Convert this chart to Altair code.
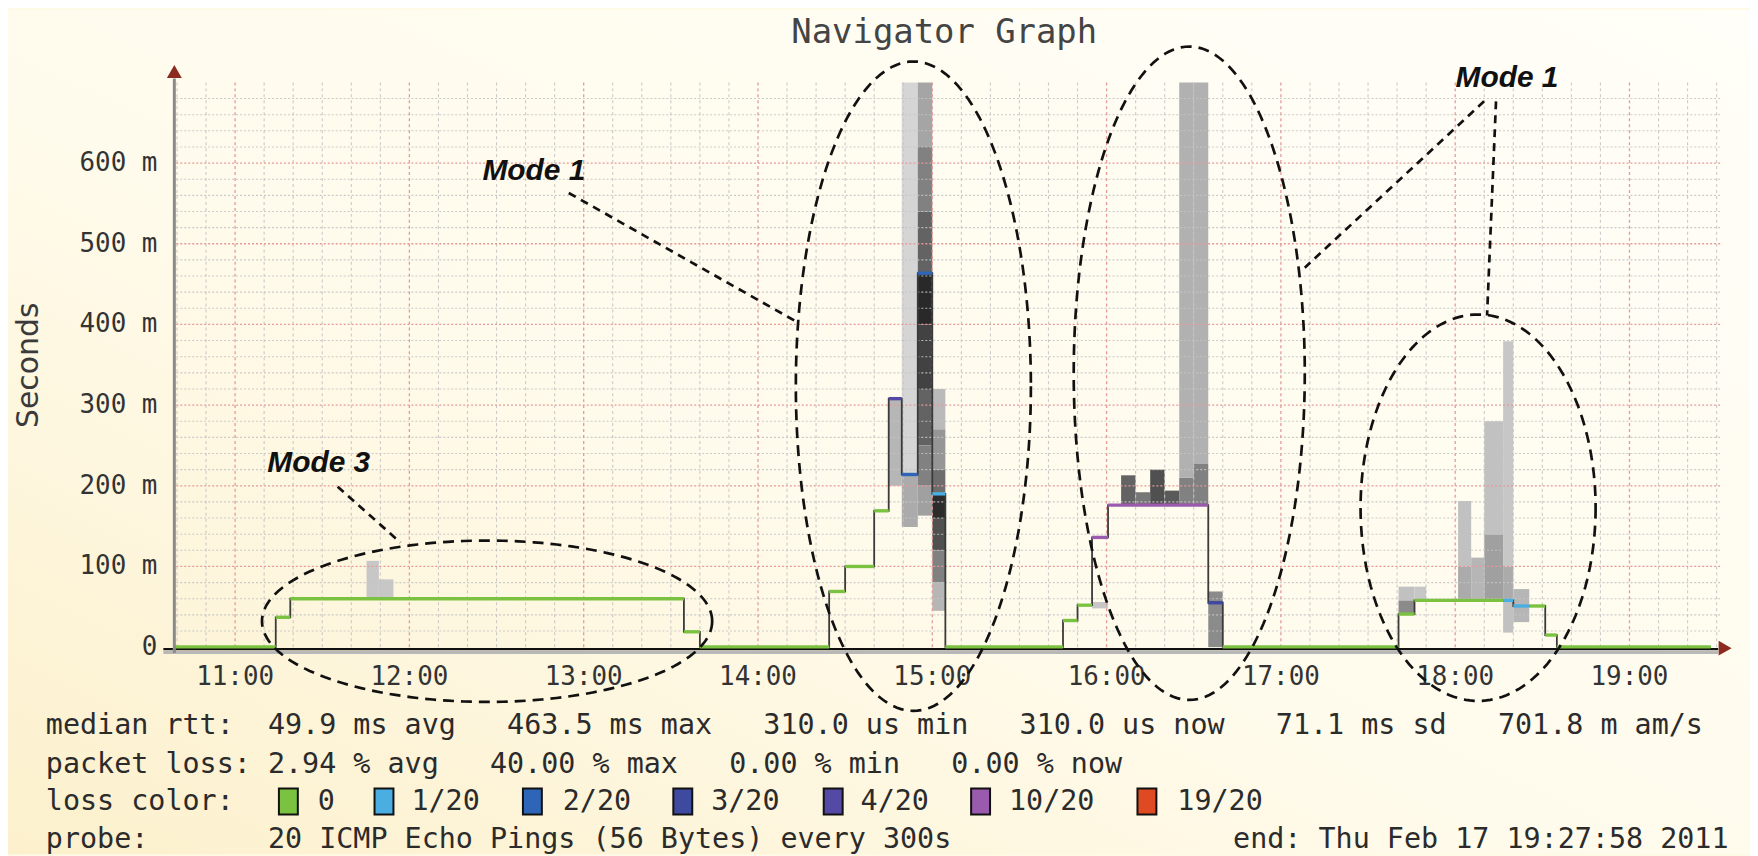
import altair as alt
import numpy as np
import pandas as pd

# ------------------------------------------------------------------ data
# median RTT: step start time, value (ms), loss class
step_start = ["10:38:45", "11:14:00", "11:19:00", "13:34:30", "13:40:00",
              "14:24:30", "14:30:00", "14:40:00", "14:45:00", "14:49:30",
              "14:55:00", "15:00:00", "15:04:30", "15:45:00", "15:50:00",
              "15:55:00", "16:00:30", "16:35:00", "16:40:00", "17:40:30",
              "17:46:00", "18:16:30", "18:20:00", "18:25:30", "18:31:00",
              "18:35:00"]
step_value = [0.3, 37, 60, 19, 0.3,
              69, 100, 169, 308, 214,
              463.5, 190, 0.3, 33, 52,
              136, 176, 55, 0.3, 41,
              58, 58, 51, 51, 15,
              0.3]
step_loss = ["0", "0", "0", "0", "0",
             "0", "0", "0", "4/20", "2/20",
             "2/20", "1/20", "0", "0", "0",
             "10/20", "10/20", "3/20", "0", "0",
             "0", "1/20", "1/20", "0", "0",
             "0"]
series_end = "19:28:00"

# smoke bands: start, end, low (ms), high (ms), density (0 light .. 1 dark)
smoke_t0 = ["11:45:15", "11:49:30",
            "14:45:00", "14:49:30", "14:49:30",
            "14:55:00", "14:55:00", "14:55:00", "14:55:00", "14:55:00", "14:55:00", "14:55:00", "14:55:00",
            "15:00:00", "15:00:00", "15:00:00", "15:00:00", "15:00:00", "15:00:00", "15:00:00",
            "15:55:00", "16:05:00", "16:10:00", "16:15:00", "16:20:00", "16:25:00", "16:25:00",
            "16:30:00", "16:30:00", "16:35:00",
            "17:40:30", "17:40:30", "17:46:00", "18:01:00", "18:01:00", "18:05:30", "18:10:00",
            "18:10:00", "18:16:30", "18:16:30", "18:16:30", "18:20:00"]
smoke_t1 = ["11:49:30", "11:54:30",
            "14:49:30", "14:55:00", "14:55:00",
            "15:00:00", "15:00:00", "15:00:00", "15:00:00", "15:00:00", "15:00:00", "15:00:00", "15:00:00",
            "15:04:30", "15:04:30", "15:04:30", "15:04:30", "15:04:30", "15:04:30", "15:04:30",
            "16:00:30", "16:10:00", "16:15:00", "16:20:00", "16:25:00", "16:30:00", "16:30:00",
            "16:35:00", "16:35:00", "16:40:00",
            "17:46:00", "17:46:00", "17:50:00", "18:05:30", "18:05:30", "18:10:00", "18:16:30",
            "18:16:30", "18:20:00", "18:20:00", "18:20:00", "18:25:30"]
smoke_lo = [60, 60,
            200, 214, 149,
            620, 540, 463.5, 400, 320, 250, 200, 163,
            270, 220, 190, 160, 120, 80, 45,
            48, 176, 176, 176, 176, 176, 210,
            176, 227, 0,
            41, 58, 58, 58, 100, 58, 58,
            140, 18, 58, 100, 31]
smoke_hi = [107, 84,
            308, 700, 214,
            700, 620, 540, 463.5, 400, 320, 250, 200,
            320, 270, 220, 190, 160, 120, 80,
            56, 213, 192, 220, 194, 210, 700,
            227, 700, 69,
            58, 75, 75, 100, 181, 111, 140,
            280, 58, 100, 379, 72]
smoke_density = [0.12, 0.12,
                 0.2, 0.06, 0.25,
                 0.28, 0.45, 0.6, 0.92, 0.78, 0.6, 0.45, 0.3,
                 0.18, 0.35, 0.55, 0.9, 0.7, 0.45, 0.2,
                 0.12, 0.6, 0.5, 0.7, 0.65, 0.45, 0.22,
                 0.45, 0.22, 0.4,
                 0.4, 0.15, 0.12, 0.25, 0.15, 0.2, 0.3,
                 0.15, 0.15, 0.25, 0.12, 0.2]

loss_levels = ["0", "1/20", "2/20", "3/20", "4/20", "10/20", "19/20"]
loss_colors = ["#7CC241", "#4BAEE3", "#2F65B6", "#3E4A9F", "#5549A6", "#9A5BAE", "#E04A22"]

x_tick_hours = [11, 12, 13, 14, 15, 16, 17, 18, 19]
y_tick_values = [0, 100, 200, 300, 400, 500, 600]

title_text = "Navigator Graph"
y_title = "Seconds"
stat_rows = [
    "median rtt:  49.9 ms avg   463.5 ms max   310.0 us min   310.0 us now   71.1 ms sd   701.8 m am/s",
    "packet loss: 2.94 % avg   40.00 % max   0.00 % min   0.00 % now",
    "loss color:",
    "probe:       20 ICMP Echo Pings (56 Bytes) every 300s",
]
end_text = "end: Thu Feb 17 19:27:58 2011"
mode_labels = ["Mode 3", "Mode 1", "Mode 1"]

# ------------------------------------------------------------------ helpers
def hrs(s):
    p = [float(v) for v in s.split(":")]
    return p[0] + p[1] / 60 + (p[2] if len(p) > 2 else 0) / 3600

X0, X1 = 10.645714, 19.52
W, H = 1553, 567
PAD = {"left": 166, "top": 73, "right": 30, "bottom": 208}
xs = alt.Scale(domain=[X0, X1], nice=False, zero=False)
ys = alt.Scale(domain=[0, 700], nice=False, zero=False)
loss_scale = alt.Scale(domain=loss_levels, range=loss_colors)
MONO = "DejaVu Sans Mono"
NB = "\u00a0"

# ------------------------------------------------------------------ tables
smoke_df = pd.DataFrame({
    "t0": [hrs(s) for s in smoke_t0], "t1": [hrs(s) for s in smoke_t1],
    "lo": smoke_lo, "hi": smoke_hi, "density": smoke_density})

starts = [hrs(s) for s in step_start]
ends = starts[1:] + [hrs(series_end)]
seg_df = pd.DataFrame({"t0": starts, "t1": ends, "v": step_value, "loss": step_loss})
line_df = pd.DataFrame({"t": starts + [hrs(series_end)], "v": step_value + [step_value[-1]]})

minor_h = pd.DataFrame({"v": [v for v in range(20, 700, 20) if v % 100]})
major_h = pd.DataFrame({"v": list(range(100, 700, 100))})
minor_v = pd.DataFrame({"t": [h + m / 60 for h in range(10, 20) for m in range(10, 60, 10)
                              if X0 < h + m / 60 < X1]})
major_v = pd.DataFrame({"t": x_tick_hours})

xlab_df = pd.DataFrame({"t": x_tick_hours, "text": [f"{h}:00" for h in x_tick_hours]})
ylab_df = pd.DataFrame({"v": y_tick_values,
                        "text": [("0" + NB + NB) if v == 0 else f"{v}{NB}m" for v in y_tick_values]})

# ------------------------------------------------------------------ layers
X = lambda f: alt.X(f, scale=xs, axis=None)
Y = lambda f: alt.Y(f, scale=ys, axis=None)
P = lambda **kw: pd.DataFrame({k: [v] for k, v in kw.items()})
px = lambda f: alt.X(f, scale=None, axis=None)
py = lambda f: alt.Y(f, scale=None, axis=None)

backdrop = alt.Chart(P(a=0)).mark_rect(
    color=alt.Gradient(gradient="linear", x1=1, y1=0, x2=0, y2=1,
                       stops=[alt.GradientStop(offset=0, color="#FFFEF8"),
                              alt.GradientStop(offset=0.55, color="#FFFBEC"),
                              alt.GradientStop(offset=1, color="#FCF0CC")])).encode(
    x=alt.value(-PAD["left"]), x2=alt.value(W + PAD["right"]),
    y=alt.value(-PAD["top"]), y2=alt.value(H + PAD["bottom"]))

grid_minor_h = alt.Chart(minor_h).mark_rule(stroke="#c4c4c4", strokeDash=[2, 2], strokeWidth=1.1, opacity=0.9).encode(
    y=Y("v:Q"))
grid_major_h = alt.Chart(major_h).mark_rule(stroke="#e59a9a", strokeDash=[2, 2], strokeWidth=1.3).encode(
    y=Y("v:Q"))
grid_minor_v = alt.Chart(minor_v).mark_rule(stroke="#c4c4c4", strokeDash=[3, 3], strokeWidth=1.1, opacity=0.9).encode(
    x=X("t:Q"))
grid_major_v = alt.Chart(major_v).mark_rule(stroke="#e59a9a", strokeDash=[3, 3], strokeWidth=1.3).encode(
    x=X("t:Q"))

smoke = alt.Chart(smoke_df).mark_rect().encode(
    x=X("t0:Q"), x2="t1:Q", y=Y("lo:Q"), y2="hi:Q",
    fill=alt.Fill("density:Q", scale=alt.Scale(domain=[0, 1], range=["#e2e2e2", "#1c1c1c"]), legend=None),
)

step_line = alt.Chart(line_df).mark_line(interpolate="step-after", stroke="#3a3a3a", strokeWidth=1.8).encode(
    x=X("t:Q"), y=Y("v:Q"))

segments = alt.Chart(seg_df).mark_rule(strokeWidth=3.4, strokeCap="butt").encode(
    x=X("t0:Q"), x2="t1:Q", y=Y("v:Q"),
    color=alt.Color("loss:N", scale=loss_scale, legend=None))

x_labels = alt.Chart(xlab_df).mark_text(font=MONO, fontSize=26, color="#333333", baseline="top", dy=17).encode(
    x=X("t:Q"), y=alt.value(H), text="text:N")
y_labels = alt.Chart(ylab_df).mark_text(font=MONO, fontSize=26, color="#333333", align="right",
                                        baseline="middle").encode(
    x=alt.value(-16), y=Y("v:Q"), text="text:N")

# axis decorations in pixel space
base_shadow = alt.Chart(P(x=-10, x2=W - 2, y=H + 5.5)).mark_rule(stroke="#b8b8b8", strokeWidth=3).encode(
    x=px("x:Q"), x2="x2:Q", y=py("y:Q"))
base_line = alt.Chart(P(x=-10, x2=W - 2, y=H + 2)).mark_rule(stroke="#111111", strokeWidth=2.2).encode(
    x=px("x:Q"), x2="x2:Q", y=py("y:Q"))
y_line = alt.Chart(P(x=1, y=-4, y2=H + 6)).mark_rule(stroke="#8a8a8a", strokeWidth=3).encode(
    x=px("x:Q"), y=py("y:Q"), y2="y2:Q")
arrow_up = alt.Chart(P(x=1, y=-11)).mark_point(shape="triangle-up", filled=True, size=225, color="#8B2B1F",
                                                opacity=1).encode(x=px("x:Q"), y=py("y:Q"))
arrow_right = alt.Chart(P(x=W + 5, y=H + 1)).mark_point(shape="triangle-right", filled=True, size=225,
                                                        color="#8B2B1F", opacity=1).encode(x=px("x:Q"), y=py("y:Q"))

# texts (pixel positions relative to plot origin)
title = alt.Chart(P(text=title_text)).mark_text(font=MONO, fontSize=34, color="#444444", baseline="middle").encode(
    x=alt.value(774), y=alt.value(-50), text="text:N")
ytitle = alt.Chart(P(text=y_title)).mark_text(font="DejaVu Sans", fontSize=30, color="#3a3a3a", angle=270,
                                              baseline="middle").encode(
    x=alt.value(-145), y=alt.value(284), text="text:N")

FS = 28.5
row_y = [645, 684, 722, 760]
rows_df = pd.DataFrame({"text": [r.replace(" ", NB) for r in stat_rows], "x": [-128] * 4, "y": row_y})
rows = alt.Chart(rows_df).mark_text(font=MONO, fontSize=FS, color="#2b2b2b", align="left",
                                    baseline="middle").encode(x=px("x:Q"), y=py("y:Q"), text="text:N")
end_df = P(text=end_text.replace(" ", NB), x=1064, y=row_y[3])
end_t = alt.Chart(end_df).mark_text(font=MONO, fontSize=FS, color="#2b2b2b", align="left",
                                    baseline="middle").encode(x=px("x:Q"), y=py("y:Q"), text="text:N")

sw_left = [106, 202, 351, 502, 653, 801, 968]
sw_text_x = [145, 239, 391, 540, 690, 839, 1008]
sw_df = pd.DataFrame({"loss": loss_levels, "x": sw_left, "x2": [v + 19 for v in sw_left],
                      "y": [row_y[2] - 13] * 7, "y2": [row_y[2] + 13] * 7})
swatches = alt.Chart(sw_df).mark_rect(stroke="#111111", strokeWidth=2).encode(
    x=px("x:Q"), x2="x2:Q", y=py("y:Q"), y2="y2:Q",
    color=alt.Color("loss:N", scale=loss_scale, legend=None))
swl_df = pd.DataFrame({"text": loss_levels, "x": sw_text_x, "y": [row_y[2]] * 7})
sw_labels = alt.Chart(swl_df).mark_text(font=MONO, fontSize=FS, color="#2b2b2b", align="left",
                                        baseline="middle").encode(x=px("x:Q"), y=py("y:Q"), text="text:N")

# annotations: dashed ellipses, leader lines, labels
ell_cx = [315, 743, 1020, 1310]
ell_cy = [541, 305, 292, 427]
ell_rx = [226, 118, 116, 118]
ell_ry = [81, 326, 328, 194]
ang = np.linspace(0, 2 * np.pi, 181)
ell_rows = []
for k in range(4):
    for i, a in enumerate(ang):
        ell_rows.append({"id": k, "i": i, "x": ell_cx[k] + ell_rx[k] * np.cos(a),
                         "y": ell_cy[k] + ell_ry[k] * np.sin(a)})
ellipses = alt.Chart(pd.DataFrame(ell_rows)).mark_line(stroke="#111111", strokeWidth=2.7,
                                                       strokeDash=[11, 7]).encode(
    x=px("x:Q"), y=py("y:Q"), detail="id:N", order="i:Q")

lead_df = pd.DataFrame({"x": [165, 397, 1316, 1328], "y": [406, 111, 19, 19],
                        "x2": [228, 627, 1136, 1319], "y2": [462, 241, 186, 234]})
leaders = alt.Chart(lead_df).mark_rule(stroke="#111111", strokeWidth=2.7, strokeDash=[8, 6]).encode(
    x=px("x:Q"), y=py("y:Q"), x2="x2:Q", y2="y2:Q")

lab_df = pd.DataFrame({"text": mode_labels, "x": [146, 362, 1339], "y": [382, 89, -4]})
labels = alt.Chart(lab_df).mark_text(font="Liberation Sans Narrow, Liberation Sans, sans-serif", fontSize=30,
                                     fontStyle="italic", fontWeight="bold", color="#111111",
                                     baseline="middle").encode(x=px("x:Q"), y=py("y:Q"), text="text:N")

chart = alt.layer(
    backdrop,
    smoke, grid_minor_h, grid_minor_v, grid_major_h, grid_major_v,
    step_line, base_shadow, base_line, segments, y_line, arrow_up, arrow_right,
    x_labels, y_labels,
    title, ytitle, rows, end_t, swatches, sw_labels, ellipses, leaders, labels,
).properties(
    width=W, height=H,
    padding=PAD,
    autosize=alt.AutoSizeParams(type="none"),
    background="#FFFAE6",
).configure_view(stroke=None)

chart.save("out.html", embed_options={"renderer": "svg", "actions": False})
